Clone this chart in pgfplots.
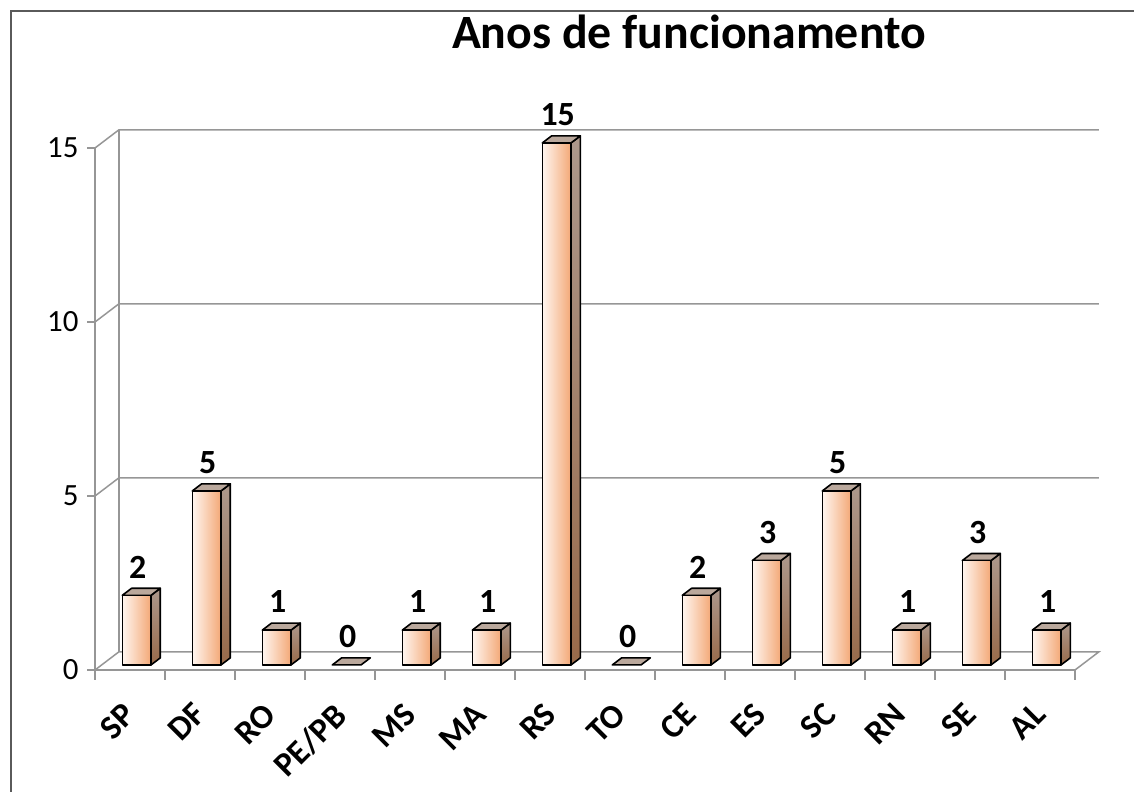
\documentclass[border=0pt]{standalone}
\usepackage{fontspec}
\setmainfont{Carlito}
\usepackage{pgfplots}
\usepackage{pgfplotstable}
\pgfplotsset{compat=1.18}

\definecolor{gridgray}{RGB}{150,150,150}
\definecolor{framegray}{RGB}{90,90,90}
\definecolor{peachlight}{RGB}{255,246,240}
\definecolor{peach}{RGB}{243,168,118}
\definecolor{sidetop}{RGB}{172,152,140}
\definecolor{sidebot}{RGB}{152,106,74}
\definecolor{topface}{RGB}{186,168,156}

% years of operation per state
\pgfplotstableread{
idx val
0 2
1 5
2 1
3 0
4 1
5 1
6 15
7 0
8 2
9 3
10 5
11 1
12 3
13 1
}\anos

% depth of the floor and of the boxes, in data units
\def\Dx{0.34}
\def\Dy{0.52}
\def\fa{0.28}
\def\fb{0.67}
\def\hw{0.205}

\tikzset{
  gridline/.style={gridgray, line width=1.5bp},
  box/.style={draw=black, line width=1.6bp, line join=round},
  frontface/.style={box, left color=peachlight, right color=peach},
  sideface/.style={box, top color=sidetop, bottom color=sidebot},
  topface/.style={box, fill=topface},
}

\begin{document}
\begin{tikzpicture}
\useasboundingbox (0,0) rectangle (1134bp,792bp);
\draw[framegray, line width=1.5bp] (11bp,-20bp) -- (11bp,781bp) -- (1160bp,781bp);
\node[font=\bfseries\fontsize{48}{48}\selectfont, anchor=base] at (689bp,743bp) {Anos de funcionamento};
\begin{axis}[
  at={(95bp,122bp)}, anchor=south west,
  scale only axis, width=980bp, height=522bp,
  xmin=-0.5, xmax=13.5, ymin=0, ymax=15,
  clip=false,
  axis x line*=bottom, axis y line*=left,
  axis line style={gridgray, line width=1.5bp},
  tick align=outside,
  ytick={0,5,10,15},
  xtick={0,...,13},
  xticklabels={SP,DF,RO,PE/PB,MS,MA,RS,TO,CE,ES,SC,RN,SE,AL},
  minor xtick={-0.5,0.5,...,13.5},
  major tick length=8bp, minor tick length=10bp,
  tick style={gridgray, line width=1.5bp},
  major x tick style={draw=none},
  /pgf/number format/assume math mode=true,
  yticklabel style={font=\fontsize{31}{31}\selectfont, xshift=-5bp},
  xticklabel style={xshift=-8bp, yshift=-23bp, rotate=45, anchor=north east,
    inner sep=0pt, font=\bfseries\fontsize{34}{34}\selectfont},
]
% back wall and floor
\addplot[gridline] coordinates {(-0.5,0) (-0.16,0.52) (13.84,0.52) (13.5,0)};
\addplot[gridline] coordinates {(-0.5,5) (-0.16,5.52) (13.84,5.52)};
\addplot[gridline] coordinates {(-0.5,10) (-0.16,10.52) (13.84,10.52)};
\addplot[gridline] coordinates {(-0.5,15) (-0.16,15.52) (13.84,15.52)};
\addplot[gridline] coordinates {(-0.16,0.52) (-0.16,15.52)};

% 3-D boxes: side, top and front faces
\pgfplotsforeachungrouped \r in {0,...,13}{%
  \pgfplotstablegetelem{\r}{val}\of\anos
  \let\v=\pgfplotsretval
  \pgfmathsetmacro\xl{\r-\hw+\fa*\Dx}%
  \pgfmathsetmacro\xr{\r+\hw+\fa*\Dx}%
  \pgfmathsetmacro\xlb{\r-\hw+\fb*\Dx}%
  \pgfmathsetmacro\xrb{\r+\hw+\fb*\Dx}%
  \pgfmathsetmacro\yf{\fa*\Dy}%
  \pgfmathsetmacro\yb{\fb*\Dy}%
  \pgfmathsetmacro\yft{\v+\fa*\Dy}%
  \pgfmathsetmacro\ybt{\v+\fb*\Dy}%
  \ifdim\v pt>0pt
    \edef\drawbox{%
      \noexpand\addplot[sideface] coordinates {(\xr,\yf) (\xrb,\yb) (\xrb,\ybt) (\xr,\yft)} -- cycle;
      \noexpand\addplot[topface] coordinates {(\xl,\yft) (\xlb,\ybt) (\xrb,\ybt) (\xr,\yft)} -- cycle;
      \noexpand\addplot[frontface] coordinates {(\xl,\yf) (\xr,\yf) (\xr,\yft) (\xl,\yft)} -- cycle;
    }%
  \else
    \edef\drawbox{%
      \noexpand\addplot[topface] coordinates {(\xl,\yft) (\xlb,\ybt) (\xrb,\ybt) (\xr,\yft)} -- cycle;
    }%
  \fi
  \drawbox
}

% value labels
\addplot[draw=none, nodes near coords, point meta=explicit,
  every node near coord/.append style={inner sep=0pt, yshift=10bp,
    font=\bfseries\fontsize{34}{34}\selectfont}]
  table[x expr=\thisrow{idx}+0.11, y expr=\thisrow{val}+\fb*\Dy, meta=val] {\anos};
\end{axis}
\end{tikzpicture}
\end{document}
